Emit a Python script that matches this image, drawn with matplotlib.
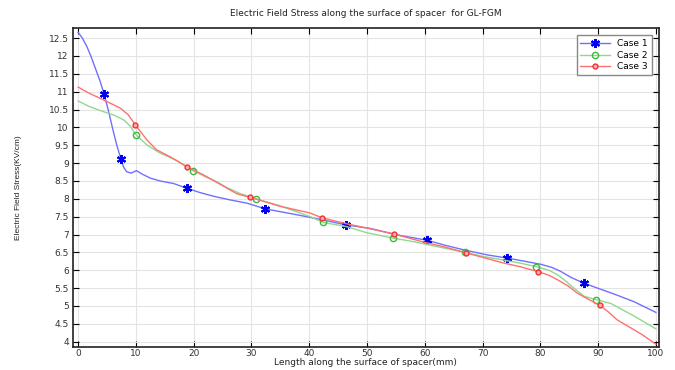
import matplotlib
matplotlib.use("Agg")
import matplotlib.pyplot as plt

# Case 1 (blue) curve
x1 = [0, 0.75, 1.5, 2.2, 3, 3.8, 4.5, 5.2, 6, 6.7, 7.4, 7.9, 8.4, 9.2, 9.7, 10.1, 11, 12.5, 14.2,
      16.5, 18.8, 21, 23.5, 26.3, 29.2, 32.4, 35, 38, 40.8, 43.5, 46.4, 50.6, 55.2, 60.4, 63.5,
      66.8, 70.8, 74.3, 77, 80, 82, 83.5, 85.3, 87.5, 89.9, 93, 96.2, 100]
y1 = [12.66, 12.5, 12.27, 12.0, 11.65, 11.3, 10.93, 10.5, 9.95, 9.5, 9.12, 8.88, 8.76, 8.72, 8.76,
      8.79, 8.70, 8.58, 8.50, 8.43, 8.30, 8.18, 8.07, 7.97, 7.88, 7.72, 7.64, 7.55, 7.46, 7.37,
      7.27, 7.17, 6.99, 6.84, 6.70, 6.57, 6.43, 6.34, 6.26, 6.17, 6.08, 5.97, 5.80, 5.64, 5.50,
      5.32, 5.12, 4.82]
# Case 1 markers
mx1 = [4.5, 7.4, 18.8, 32.4, 46.4, 60.4, 74.3, 87.5]
my1 = [10.93, 9.12, 8.30, 7.72, 7.27, 6.84, 6.34, 5.64]

# Case 2 (green) curve
x2 = [0, 2, 4.4, 6.1, 7.9, 9.0, 10.0, 11.9, 14.2, 17.1, 19.9, 22, 24, 25.7, 28, 30.8, 35, 40.2,
      42.4, 46.5, 50, 54.5, 58.1, 62.2, 67, 70, 73.5, 76.5, 79.3, 81.5, 83, 84.3, 85.5, 87.6, 89.6,
      92.2, 96.2, 100]
y2 = [10.74, 10.58, 10.44, 10.35, 10.21, 10.04, 9.80, 9.51, 9.28, 9.07, 8.79, 8.62, 8.48, 8.32,
      8.15, 8.00, 7.80, 7.50, 7.34, 7.22, 7.05, 6.90, 6.80, 6.66, 6.50, 6.39, 6.29, 6.20, 6.10,
      6.00, 5.87, 5.71, 5.54, 5.27, 5.18, 5.07, 4.72, 4.36]
mx2 = [10.0, 19.9, 30.8, 42.4, 54.5, 67, 79.3, 89.6]
my2 = [9.80, 8.79, 8.00, 7.34, 6.90, 6.50, 6.10, 5.18]

# Case 3 (red) curve
x3 = [0, 2, 4.4, 7.3, 8.7, 9.9, 11.9, 13.6, 15.9, 18.8, 21.7, 25.1, 27.5, 29.8, 35, 40.2, 42.2,
      46.5, 50, 54.6, 60, 63.5, 67.1, 70.5, 73.7, 76.5, 79.6, 81.5, 83, 84.8, 86.4, 88.5, 90.3,
      91.8, 93.3, 95.3, 97.4, 100]
y3 = [11.13, 10.95, 10.77, 10.54, 10.35, 10.07, 9.65, 9.37, 9.18, 8.90, 8.67, 8.36, 8.14, 8.04,
      7.79, 7.60, 7.47, 7.30, 7.18, 7.02, 6.78, 6.65, 6.49, 6.34, 6.20, 6.10, 5.96, 5.86, 5.73,
      5.56, 5.36, 5.17, 5.02, 4.83, 4.61, 4.42, 4.22, 3.93]
mx3 = [9.9, 18.8, 29.8, 42.2, 54.6, 67.1, 79.6, 90.3]
my3 = [10.07, 8.90, 8.04, 7.47, 7.02, 6.49, 5.96, 5.02]

labels = ["Case 1", "Case 2", "Case 3"]
xticks = list(range(0, 101, 10))
yticks = [4 + 0.5 * i for i in range(18)]

fig = plt.figure(figsize=(6.75, 3.7), dpi=100)
ax = fig.add_axes([0.108, 0.063, 0.868, 0.861])

l1, = ax.plot(x1, y1, color="#7070ff", lw=1.0)
m1, = ax.plot(mx1, my1, ls="none", marker=(6, 2, 0), ms=6.5, mec="#0000ee", mew=1.5)
l2, = ax.plot(x2, y2, color="#90d890", lw=1.0)
m2, = ax.plot(mx2, my2, ls="none", marker="o", ms=4.5, mfc="none", mec="#3cb83c", mew=1.0)
l3, = ax.plot(x3, y3, color="#ff7070", lw=1.0)
m3, = ax.plot(mx3, my3, ls="none", marker="o", ms=3.5, mfc="#ffb0b0", mec="#f03030", mew=1.0)

ax.set_xlim(-0.9, 100.5)
ax.set_ylim(3.86, 12.78)
ax.set_xticks(xticks)
ax.set_xticklabels([str(t) for t in xticks])
ax.set_yticks(yticks)
ax.set_yticklabels([("%g" % t) for t in yticks])
ax.tick_params(direction="in", top=True, right=True, length=4, width=0.8,
               labelsize=6.5, labelcolor="#333333")
ax.tick_params(axis="x", pad=1.5)
ax.tick_params(axis="y", pad=3)
ax.grid(True, color="#e4e4e4", lw=0.8)
for s in ax.spines.values():
    s.set_linewidth(1.2)
    s.set_color("#222222")

ax.set_title("Electric Field Stress along the surface of spacer  for GL-FGM",
             fontsize=6.5, color="#222222", pad=9)
ax.set_xlabel("Length along the surface of spacer(mm)", fontsize=6.5, color="#222222", labelpad=0)
ax.set_ylabel("Electric Field Stress(KV/cm)", fontsize=6, family="Liberation Sans",
              color="#222222", labelpad=19)

leg = ax.legend([(l1, m1), (l2, m2), (l3, m3)], labels, loc="upper right", fontsize=6.5,
                fancybox=False, borderaxespad=0.8, handlelength=3.3, framealpha=1,
                edgecolor="#888888", labelspacing=0.3)
leg.get_frame().set_linewidth(1.0)

fig.savefig("out.png", dpi=100)
